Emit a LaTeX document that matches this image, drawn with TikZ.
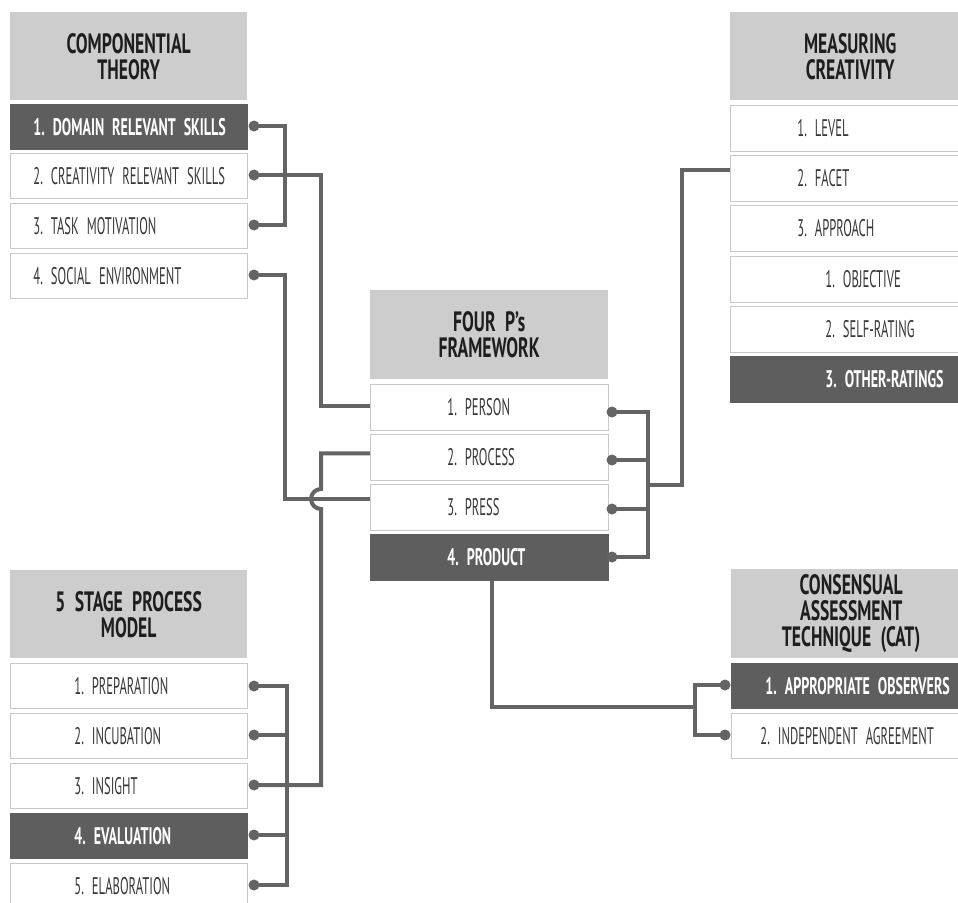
\documentclass[tikz,border=0pt]{standalone}
\usepackage{fontspec}
\setmainfont{PT Sans}[FakeStretch=0.525]
\newfontfamily\rowboldfamily{PT Sans}[FakeStretch=0.585]
\newfontfamily\hdrfamily{PT Sans}[FakeStretch=0.63]
\newcommand{\myrowfont}{\fontsize{24}{26}\selectfont\frenchspacing}
\newcommand{\myrowbold}{\rowboldfamily\bfseries\fontsize{24}{26}\selectfont\frenchspacing}
\newcommand{\myhdrfont}{\hdrfamily\bfseries\fontsize{28}{26}\selectfont\frenchspacing}
\definecolor{hdrgray}{HTML}{CDCDCD}
\definecolor{darkrow}{HTML}{5E5E5E}
\definecolor{bordergray}{HTML}{C9C9C9}
\definecolor{linegray}{HTML}{646464}
\definecolor{rowtext}{HTML}{383838}
\definecolor{hdrtext}{HTML}{1E1E1E}
\begin{document}
\begin{tikzpicture}[x=1pt,y=1pt,
  hdr/.style={fill=hdrgray, draw=none, inner sep=0pt, align=center, anchor=north west,
    text=hdrtext, font=\myhdrfont},
  row/.style={draw=bordergray, line width=0.8pt, fill=white, inner sep=0pt, align=left,
    anchor=north west, text=rowtext, font=\myrowfont},
  drow/.style={row, fill=darkrow, draw=darkrow, text=white, font=\myrowbold},
  dot/.style={circle, fill=linegray, inner sep=0pt, minimum size=11pt},
  conn/.style={draw=linegray, line width=4pt}
]
\useasboundingbox (0,0) rectangle (958,-902);
\clip (0,0) rectangle (958,-902);

% ---------- Componential theory ----------
\node[hdr, text width=237pt, minimum height=88pt] (ch) at (10,-12) {COMPONENTIAL\\THEORY};
\node[drow, text width=237pt, minimum height=45pt] (c1) at (10,-104) {\hspace*{23pt}1. DOMAIN RELEVANT SKILLS};
\node[row, text width=237pt, minimum height=45pt] (c2) at (10,-153) {\hspace*{23pt}2. CREATIVITY RELEVANT SKILLS};
\node[row, text width=237pt, minimum height=45pt] (c3) at (10,-203) {\hspace*{23pt}3. TASK MOTIVATION};
\node[row, text width=237pt, minimum height=45pt] (c4) at (10,-253) {\hspace*{23pt}4. SOCIAL ENVIRONMENT};

% ---------- Four P's ----------
\node[hdr, text width=238pt, minimum height=89pt] (ph) at (370,-290) {FOUR P’s\\FRAMEWORK};
\node[row, text width=238pt, minimum height=46pt] (p1) at (370,-384) {\hspace*{77pt}1. PERSON};
\node[row, text width=238pt, minimum height=46pt] (p2) at (370,-434) {\hspace*{77pt}2. PROCESS};
\node[row, text width=238pt, minimum height=46pt] (p3) at (370,-484) {\hspace*{77pt}3. PRESS};
\node[drow, text width=238pt, minimum height=46pt] (p4) at (370,-534) {\hspace*{77pt}4. PRODUCT};

% ---------- Measuring creativity ----------
\node[hdr, text width=240pt, minimum height=88pt] (mh) at (730,-12) {MEASURING\\CREATIVITY};
\node[row, text width=240pt, minimum height=46pt] (m1) at (730,-105) {\hspace*{67pt}1. LEVEL};
\node[row, text width=240pt, minimum height=46pt] (m2) at (730,-155) {\hspace*{67pt}2. FACET};
\node[row, text width=240pt, minimum height=46pt] (m3) at (730,-205) {\hspace*{67pt}3. APPROACH};
\node[row, text width=240pt, minimum height=46pt] (m4) at (730,-256) {\hspace*{95pt}1. OBJECTIVE};
\node[row, text width=240pt, minimum height=46pt] (m5) at (730,-306) {\hspace*{95pt}2. SELF-RATING};
\node[drow, text width=240pt, minimum height=46pt] (m6) at (730,-356) {\hspace*{95pt}3. OTHER-RATINGS};

% ---------- 5 stage process model ----------
\node[hdr, text width=237pt, minimum height=88pt] (sh) at (10,-570) {5 STAGE PROCESS\\MODEL};
\node[row, text width=237pt, minimum height=45pt] (s1) at (10,-663) {\hspace*{64pt}1. PREPARATION};
\node[row, text width=237pt, minimum height=45pt] (s2) at (10,-713) {\hspace*{64pt}2. INCUBATION};
\node[row, text width=237pt, minimum height=45pt] (s3) at (10,-763) {\hspace*{64pt}3. INSIGHT};
\node[drow, text width=237pt, minimum height=45pt] (s4) at (10,-813) {\hspace*{64pt}4. EVALUATION};
\node[row, text width=237pt, minimum height=45pt] (s5) at (10,-863) {\hspace*{64pt}5. ELABORATION};

% ---------- CAT ----------
\node[hdr, text width=240pt, minimum height=89pt] (kh) at (731,-569) {CONSENSUAL\\ASSESSMENT\\TECHNIQUE (CAT)};
\node[drow, text width=240pt, minimum height=45pt] (k1) at (731,-663) {\hspace*{34pt}1. APPROPRIATE OBSERVERS};
\node[row, text width=240pt, minimum height=45pt] (k2) at (731,-713) {\hspace*{29pt}2. INDEPENDENT AGREEMENT};

% ---------- dots ----------
\node[dot] (cd1) at (254,-126) {};
\node[dot] (cd2) at (254,-175) {};
\node[dot] (cd3) at (254,-225) {};
\node[dot] (cd4) at (254,-275) {};
\node[dot] (pd1) at (612,-412) {};
\node[dot] (pd2) at (612,-460) {};
\node[dot] (pd3) at (612,-509) {};
\node[dot] (pd4) at (612,-557) {};
\node[dot] (sd1) at (254,-686) {};
\node[dot] (sd2) at (254,-735) {};
\node[dot] (sd3) at (254,-785) {};
\node[dot] (sd4) at (254,-835) {};
\node[dot] (sd5) at (254,-885) {};
\node[dot] (kd1) at (725,-685) {};
\node[dot] (kd2) at (725,-735) {};

\coordinate (hop) at (321,-499);
\coordinate (pj) at (648,-485);
\coordinate (kj) at (695,-707);

% ---------- connectors ----------
\draw[conn] (cd1.center) -- ++(31,0) |- (cd3.center);
\draw[conn] (cd2.center) -- ++(67,0) |- ([yshift=1.5pt]p1.west);
\draw[conn] (cd4.center) -- ++(31,0) |- ([yshift=8pt]p3.west);
\draw[conn] (sd3.center) -| ([yshift=-10pt]hop) arc[start angle=270, end angle=90, radius=10pt] |- ([yshift=4pt]p2.west);

\draw[conn] (pd1.center) -- ++(36,0) |- (pd4.center);
\draw[conn] (pd2.center) -- ++(36,0);
\draw[conn] (pd3.center) -- ++(36,0);
\draw[conn] (pj) -- ++(34,0) |- ([yshift=8pt]m2.west);

\draw[conn] (sd1.center) -- ++(33,0) |- (sd5.center);
\draw[conn] (sd2.center) -- ++(33,0);
\draw[conn] (sd4.center) -- ++(33,0);

\draw[conn] ([xshift=3pt]p4.south) |- (kj);
\draw[conn] (kd1.center) -- ++(-30,0) |- (kd2.center);
\end{tikzpicture}
\end{document}
